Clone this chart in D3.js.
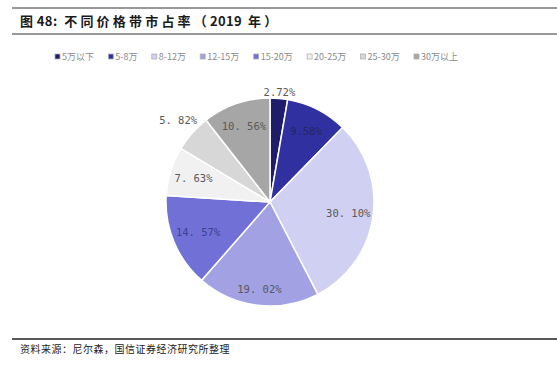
<!DOCTYPE html>
<html><head><meta charset="utf-8">
<script src="https://cdn.jsdelivr.net/npm/d3@7"></script>
<style>body{margin:0;background:#fff}svg{display:block}</style>
</head><body>
<script>
const categories = ["5万以下","5-8万","8-12万","12-15万","15-20万","20-25万","25-30万","30万以上"];
const shares = [2.72, 9.58, 30.10, 19.02, 14.57, 7.63, 5.82, 10.56];
const labels = ["2.72%","9.58%","30. 10%","19. 02%","14. 57%","7. 63%","5. 82%","10. 56%"];
const colors = ["#1d1d6c","#3030a0","#d0d0f2","#a1a1e4","#7070d6","#f1f1f1","#d7d7d7","#a6a6a6"];
const labelRadius = [1.06, 0.76, 0.76, 0.85, 0.75, 0.77, 1.18, 0.77];
const labelColors = ["#595959","#262660","#595959","#595959","#404090","#595959","#595959","#595959"];
const titleParts = [["图\u00a048:\u00a0\u00a0",0.4],["不同价格带市占率（",3.2],["2019",0.3],["\u00a0年）",3.2]];

const W = 557, H = 367;
const svg = d3.select("body").append("svg").attr("width", W).attr("height", H);

svg.append("line").attr("x1",12).attr("x2",W).attr("y1",8).attr("y2",8).attr("stroke","#333").attr("stroke-width",1.2);
svg.append("line").attr("x1",12).attr("x2",W).attr("y1",34).attr("y2",34).attr("stroke","#333").attr("stroke-width",1);
svg.append("line").attr("x1",12).attr("x2",W).attr("y1",339).attr("y2",339).attr("stroke","#222").attr("stroke-width",1.3);

const title = svg.append("text").attr("x",20).attr("y",26)
  .attr("font-family","'Noto Sans CJK SC', 'Noto Sans', sans-serif")
  .attr("font-weight","bold").attr("font-size",13).attr("fill","#1a1a1a");
titleParts.forEach(p=>title.append("tspan").attr("letter-spacing",p[1]).text(p[0]));

svg.append("text").attr("x",20).attr("y",353)
  .attr("font-family","'Noto Sans CJK SC', sans-serif")
  .attr("font-size",10).attr("fill","#222").attr("letter-spacing",0.5)
  .text("资料来源：尼尔森，国信证券经济研究所整理");

const leg = svg.append("g");
const legFont = "'Noto Sans CJK SC', sans-serif";
let items = categories.map((c,i)=>{
  const g = leg.append("g");
  g.append("rect").attr("width",5).attr("height",5).attr("y",-6)
    .attr("fill",colors[i]).attr("stroke","#b0b0b0").attr("stroke-width",0.8);
  const t = g.append("text").attr("x",7).attr("font-family",legFont).attr("font-size",9)
    .attr("fill","#8a8a8a").text(c);
  return {g, w: 7 + t.node().getComputedTextLength()};
});
const legStart = 55, legEnd = 458;
const totalW = d3.sum(items, d=>d.w);
const gap = (legEnd - legStart - totalW) / (items.length - 1);
let lx = legStart;
items.forEach(d=>{ d.g.attr("transform",`translate(${lx},60)`); lx += d.w + gap; });

const cx = 270, cy = 202, R = 104;
const pie = d3.pie().sort(null).value(d=>d)(shares);
const arc = d3.arc().innerRadius(0).outerRadius(R);
const pg = svg.append("g").attr("transform",`translate(${cx},${cy})`);
pg.selectAll("path").data(pie).join("path")
  .attr("d",arc).attr("fill",(d,i)=>colors[i])
  .attr("stroke","#fff").attr("stroke-width",1.5);

pg.selectAll("text.lbl").data(pie).join("text").attr("class","lbl")
  .attr("transform",(d,i)=>{
    const a = (d.startAngle + d.endAngle)/2, r = R*labelRadius[i];
    return `translate(${r*Math.sin(a)},${-r*Math.cos(a)})`;
  })
  .attr("text-anchor","middle").attr("dy","0.35em")
  .attr("font-family","'DejaVu Sans Mono', monospace").attr("font-size",10.5)
  .attr("fill",(d,i)=>labelColors[i])
  .text((d,i)=>labels[i]);
</script>
</body></html>
